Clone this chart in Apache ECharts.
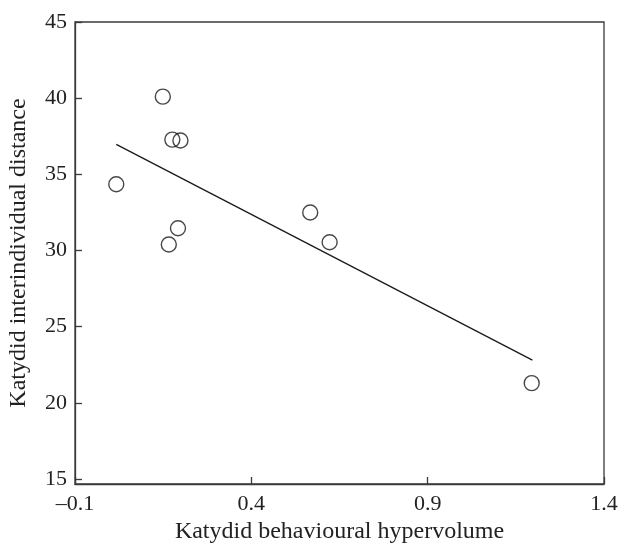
<!DOCTYPE html>
<html>
<head>
<meta charset="utf-8">
<script src="https://cdn.jsdelivr.net/npm/echarts@6/dist/echarts.min.js"></script>
<style>
  html, body { margin: 0; padding: 0; background: #fff; }
  #chart { width: 622px; height: 544px; }
</style>
</head>
<body>
<div id="chart"></div>
<script>
// hypervolume (x) vs interindividual distance (y)
var hypervolume = [0.017, 0.149, 0.176, 0.199, 0.192, 0.166, 0.567, 0.622, 1.195]
var distance = [34.35, 40.1, 37.28, 37.22, 31.46, 30.39, 32.49, 30.54, 21.29]
// fitted line end points
var fitX = [0.017, 1.197]
var fitY = [36.97, 22.8]
var xTicks = [-0.1, 0.4, 0.9, 1.4]
var yTicks = [15, 20, 25, 30, 35, 40, 45]

var points = hypervolume.map(function (x, i) { return [x, distance[i]] })
var fit = fitX.map(function (x, i) { return [x, fitY[i]] })

var axisColor = '#3a3a3a'
var font = 'Liberation Serif'

var myChart = echarts.init(document.getElementById('chart'))
var option = {
  animation: false,
  grid: {
    left: 75,
    right: 18,
    top: 22,
    bottom: 60,
    show: true,
    borderColor: axisColor,
    borderWidth: 1.3,
    outerBoundsMode: 'none'
  },
  xAxis: {
    type: 'value',
    min: -0.1,
    max: 1.4,
    name: 'Katydid behavioural hypervolume',
    nameLocation: 'middle',
    nameGap: 34,
    nameTextStyle: { fontFamily: font, fontSize: 24, color: '#222' },
    axisLine: { show: true, onZero: false, lineStyle: { color: axisColor, width: 1.3 } },
    axisTick: { show: true, inside: true, length: 7, customValues: xTicks, lineStyle: { color: axisColor, width: 1.3 } },
    axisLabel: {
      customValues: xTicks,
      margin: 9,
      fontFamily: font,
      fontSize: 22,
      color: '#222',
      formatter: function (v) { return v < 0 ? '\u2013' + Math.abs(v).toFixed(1) : v.toFixed(1) }
    },
    splitLine: { show: false }
  },
  yAxis: {
    type: 'value',
    min: 14.67,
    max: 45,
    name: 'Katydid interindividual distance',
    nameLocation: 'middle',
    nameGap: 44,
    nameTextStyle: { fontFamily: font, fontSize: 24, color: '#222' },
    axisLine: { show: true, onZero: false, lineStyle: { color: axisColor, width: 1.3 } },
    axisTick: { show: true, inside: true, length: 7, customValues: yTicks, lineStyle: { color: axisColor, width: 1.3 } },
    axisLabel: {
      customValues: yTicks,
      margin: 8,
      fontFamily: font,
      fontSize: 22,
      color: '#222'
    },
    splitLine: { show: false }
  },
  series: [
    {
      type: 'line',
      data: fit,
      showSymbol: false,
      symbol: 'none',
      lineStyle: { color: '#1a1a1a', width: 1.3 },
      z: 2
    },
    {
      type: 'scatter',
      data: points,
      symbol: 'circle',
      symbolSize: 15,
      itemStyle: { color: 'rgba(0,0,0,0)', borderColor: '#1a1a1a', borderWidth: 1.4 },
      z: 3
    }
  ]
}
myChart.setOption(option, true)
</script>
</body>
</html>
